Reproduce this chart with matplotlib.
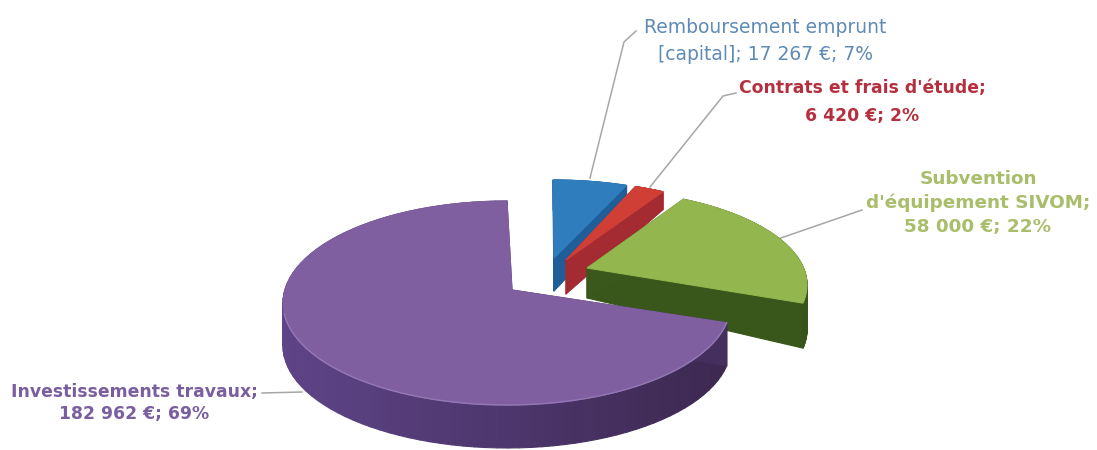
import numpy as np
import matplotlib
matplotlib.use("Agg")
import matplotlib.pyplot as plt
from matplotlib.collections import PolyCollection
from matplotlib.patches import Polygon
from matplotlib.colors import to_rgb

# amounts in euros
names = ["Investissements travaux", "Subvention d'équipement SIVOM",
         "Contrats et frais d'étude", "Remboursement emprunt (capital)"]
amounts = [182962, 58000, 6420, 17267]
label_texts = ["Investissements travaux;\n182 962 €; 69%",
               "Subvention\nd'équipement SIVOM;\n58 000 €; 22%",
               "Contrats et frais d'étude;\n6 420 €; 2%",
               "Remboursement emprunt\n[capital]; 17 267 €; 7%"]
label_colors = ["#7a5fa0", "#a9bd6a", "#b5303f", "#5f8bb5"]
label_pos = [(134, 403), (978, 203), (862, 102), (765, 41)]
label_bold = [True, True, True, False]
label_sizes = [12.4, 13.2, 12.4, 13.5]
label_spacing = [1.32, 1.43, 1.67, 1.48]

# look of each slice, perspective makes the angles a bit off from the shares
top_colors = ["#7f5fa0", "#94b64f", "#cf3f36", "#2f7dbd"]
wall_left = ["#5e4488", "#3f5f1e", "#a52b33", "#1f5e98"]
wall_right = ["#3c2850", "#37541a", "#a52b33", "#1f5e98"]
centers = [(507, 303), (590, 285), (562, 273), (553, 270)]
radii = [(224, 102), (217, 95), (215, 92), (215, 90)]
apexes = [(512, 290), (587, 268), (566, 260), (554, 258)]
starts = [90, -11, 62, 70]
stretch = [1.04, 0.957, 0.92, 0.85]
apex_depth = [43, 30, 34, 33]
rim_depth = [43, 45, 18, 30]

leaders = [[(262, 393), (302, 392)],
           [(775, 240), (862, 210)],
           [(650, 187), (723, 96), (736, 93)],
           [(590, 178), (624, 42), (636, 31)]]

fig = plt.figure(figsize=(10.97, 4.5), dpi=100)
ax = fig.add_axes([0, 0, 1, 1])
ax.set_xlim(0, 1097)
ax.set_ylim(450, 0)
ax.axis("off")

total = sum(amounts)


def draw_slice(i):
    sweep = amounts[i] / total * 360 * stretch[i]
    th = np.radians(np.linspace(starts[i], starts[i] + sweep, 90))
    cx, cy = centers[i]
    rx, ry = radii[i]
    arc = np.column_stack([cx + rx * np.cos(th), cy - ry * np.sin(th)])
    top = np.vstack([apexes[i], arc])
    depth = np.r_[apex_depth[i], np.full(len(arc), rim_depth[i])]
    low = top + np.column_stack([np.zeros(len(top)), depth])

    # side walls as small quads, shade goes by x position
    left = np.array(to_rgb(wall_left[i]))
    right = np.array(to_rgb(wall_right[i]))
    quads, cols = [], []
    n = len(top)
    for a in range(n):
        b = (a + 1) % n
        quads.append([top[a], top[b], low[b], low[a]])
        t = np.clip(((top[a][0] + top[b][0]) / 2 - (cx - rx)) / (2 * rx), 0, 1)
        cols.append(left + (right - left) * t)
    ax.add_collection(PolyCollection(quads, facecolors=cols, edgecolors=cols, linewidths=0.8))
    ax.add_patch(Polygon(top, closed=True, facecolor=top_colors[i],
                         edgecolor=top_colors[i], linewidth=0.8))
    return arc


for line in leaders:
    ax.plot(*zip(*line), color="#a6a6a6", linewidth=1.1, zorder=0)

# back to front
for i in [3, 2, 1, 0]:
    arc = draw_slice(i)
    if i == 0:
        # light edge where the top meets the rim
        front = arc[(arc[:, 1] > 310)]
        ax.plot(front[:, 0], front[:, 1], color="#9478b5", linewidth=1.0)

for i in range(len(names)):
    ax.text(label_pos[i][0], label_pos[i][1], label_texts[i], color=label_colors[i],
            fontsize=label_sizes[i], family="DejaVu Sans", ha="center", va="center",
            fontweight="bold" if label_bold[i] else "normal", linespacing=label_spacing[i])

fig.savefig("out.png", dpi=100)
